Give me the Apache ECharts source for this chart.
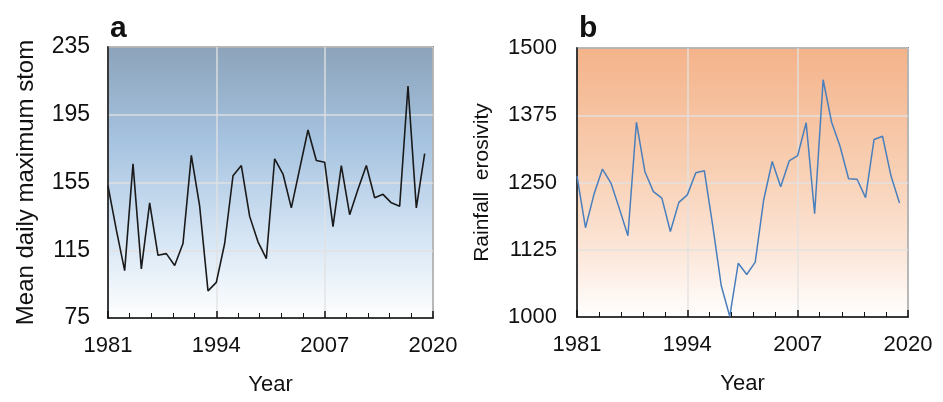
<!DOCTYPE html>
<html>
<head>
<meta charset="utf-8">
<script src="https://cdn.jsdelivr.net/npm/echarts@6/dist/echarts.min.js"></script>
<style>
  html, body { margin: 0; padding: 0; background: #fff; }
  #main { width: 943px; height: 402px; }
</style>
</head>
<body>
<div id="main"></div>
<script>
var years = [1981, 1982, 1983, 1984, 1985, 1986, 1987, 1988, 1989, 1990,
    1991, 1992, 1993, 1994, 1995, 1996, 1997, 1998, 1999, 2000,
    2001, 2002, 2003, 2004, 2005, 2006, 2007, 2008, 2009, 2010,
    2011, 2012, 2013, 2014, 2015, 2016, 2017, 2018, 2019];

// a: mean daily maximum storm
var stormMax = [153, 127, 103, 166, 104, 143, 112, 113, 106, 119,
    171, 141, 91, 96, 119, 159, 165, 135, 120, 110,
    169, 160, 140, 163, 186, 168, 167, 129, 165, 136,
    151, 165, 146, 148, 143, 141, 212, 140, 172];

// b: rainfall erosivity
var erosivity = [1262, 1166, 1228, 1275, 1249, 1201, 1151, 1362, 1270, 1233,
    1221, 1159, 1213, 1227, 1268, 1272, 1169, 1058, 1001, 1100,
    1079, 1102, 1218, 1289, 1242, 1290, 1300, 1361, 1192, 1441,
    1362, 1317, 1257, 1256, 1222, 1330, 1336, 1262, 1212];

var yearStart = 1981;
var stormBase = 75;

var chartDom = document.getElementById('main');
var myChart = echarts.init(chartDom);

var fontFam = '"Liberation Sans", Arial, sans-serif';
function font(size) {
    return {fontSize: size, color: '#111', fontFamily: fontFam};
}
var gridLine = {show: true, lineStyle: {color: 'rgba(225,225,225,0.9)', width: 1.5}};

function xAxisFor(gridIndex) {
    return {
        type: 'value',
        gridIndex: gridIndex,
        min: 0,
        max: 39,
        interval: 13,
        name: 'Year',
        nameLocation: 'middle',
        nameGap: 56,
        nameTextStyle: font(22),
        axisLine: {show: true, lineStyle: {color: '#111', width: 1.5}},
        axisTick: {show: true, inside: true, length: 7, lineStyle: {color: '#111', width: 1.5}},
        minorTick: {show: true, splitNumber: 5, length: 5, lineStyle: {color: '#111', width: 1}},
        axisLabel: Object.assign({margin: 17, formatter: function (v) { return String(v + yearStart); }}, font(22)),
        splitLine: gridLine
    };
}

var gradA = new echarts.graphic.LinearGradient(0, 0, 0, 1, [
    {offset: 0, color: '#8ca3ba'},
    {offset: 0.35, color: '#a6c3e0'},
    {offset: 0.7, color: '#d5e5f4'},
    {offset: 1, color: '#ffffff'}
]);
var gradB = new echarts.graphic.LinearGradient(0, 0, 0, 1, [
    {offset: 0, color: '#f4b38a'},
    {offset: 0.45, color: '#f8cfb3'},
    {offset: 0.75, color: '#fce6d8'},
    {offset: 1, color: '#ffffff'}
]);

var titleStyle = {fontSize: 30, fontWeight: 'bold', color: '#111', fontFamily: fontFam};

var option = {
    animation: false,
    title: [
        {text: 'a', left: 105, top: 9, textStyle: titleStyle},
        {text: 'b', left: 574, top: 9, textStyle: titleStyle}
    ],
    grid: [{
        left: 108, right: 510, top: 47, bottom: 84,
        show: true, backgroundColor: gradA, borderColor: '#333', borderWidth: 1.5
    }, {
        left: 577, right: 35, top: 48, bottom: 85,
        show: true, backgroundColor: gradB, borderColor: '#333', borderWidth: 1.5
    }],
    xAxis: [xAxisFor(0), xAxisFor(1)],
    yAxis: [{
        type: 'value',
        gridIndex: 0,
        min: 0,
        max: 160,
        interval: 40,
        name: 'Mean daily maximum stom',
        nameLocation: 'middle',
        nameGap: 70,
        nameTextStyle: font(24),
        axisLine: {show: true, lineStyle: {color: '#111', width: 1.5}},
        axisTick: {show: false},
        axisLabel: Object.assign({margin: 18, formatter: function (v) { return String(v + stormBase); }}, font(23)),
        splitLine: gridLine
    }, {
        type: 'value',
        gridIndex: 1,
        min: 1000,
        max: 1500,
        interval: 125,
        name: 'Rainfall  erosivity',
        nameLocation: 'middle',
        nameGap: 84,
        nameTextStyle: font(21),
        axisLine: {show: true, lineStyle: {color: '#111', width: 1.5}},
        axisTick: {show: false},
        axisLabel: Object.assign({margin: 20, formatter: function (v) { return String(v); }}, font(22)),
        splitLine: gridLine
    }],
    series: [{
        type: 'line',
        xAxisIndex: 0,
        yAxisIndex: 0,
        symbol: 'none',
        lineStyle: {color: '#1a1a1a', width: 1.6},
        data: years.map(function (y, i) { return [y - yearStart, stormMax[i] - stormBase]; })
    }, {
        type: 'line',
        xAxisIndex: 1,
        yAxisIndex: 1,
        symbol: 'none',
        lineStyle: {color: '#4a7fbd', width: 1.5},
        data: years.map(function (y, i) { return [y - yearStart, erosivity[i]]; })
    }]
};

myChart.setOption(option);
</script>
</body>
</html>
